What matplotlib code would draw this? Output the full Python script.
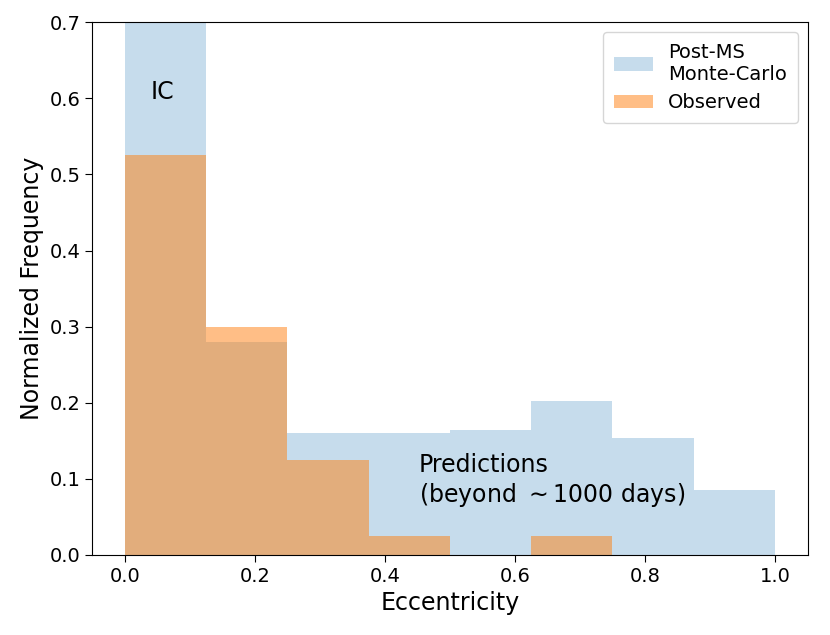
import matplotlib
matplotlib.use("Agg")
import matplotlib.pyplot as plt
import numpy as np

bin_edges = [0.0, 0.125, 0.25, 0.375, 0.5, 0.625, 0.75, 0.875, 1.0]
monte_carlo = [0.75, 0.28, 0.160, 0.160, 0.164, 0.202, 0.154, 0.086]
observed = [0.525, 0.300, 0.125, 0.025, 0.0, 0.025, 0.0, 0.0]

fig = plt.figure(figsize=(8.3, 6.35), dpi=100)
ax = fig.add_axes([0.111, 0.126, 0.862, 0.839])

edges = np.array(bin_edges)
centers = (edges[:-1] + edges[1:]) / 2
ax.hist(centers, bins=edges, weights=monte_carlo, color='tab:blue', alpha=0.25,
        label='Post-MS\nMonte-Carlo')
ax.hist(centers, bins=edges, weights=observed, color='tab:orange', alpha=0.5,
        label='Observed')

ax.set_ylim(0, 0.7)
ax.set_xlim(-0.05, 1.05)
ax.set_xticks([0.0, 0.2, 0.4, 0.6, 0.8, 1.0])
ax.tick_params(labelsize=14, length=5)
ax.set_xlabel('Eccentricity', fontsize=17)
ax.set_ylabel('Normalized Frequency', fontsize=17)

ax.text(0.04, 0.599, 'IC', fontsize=17)
ax.text(0.452, 0.07, 'Predictions\n(beyond $\\sim$1000 days)', fontsize=17)

ax.legend(loc='upper right', fontsize=14, borderpad=0.55)

fig.savefig('out.png', dpi=100)
